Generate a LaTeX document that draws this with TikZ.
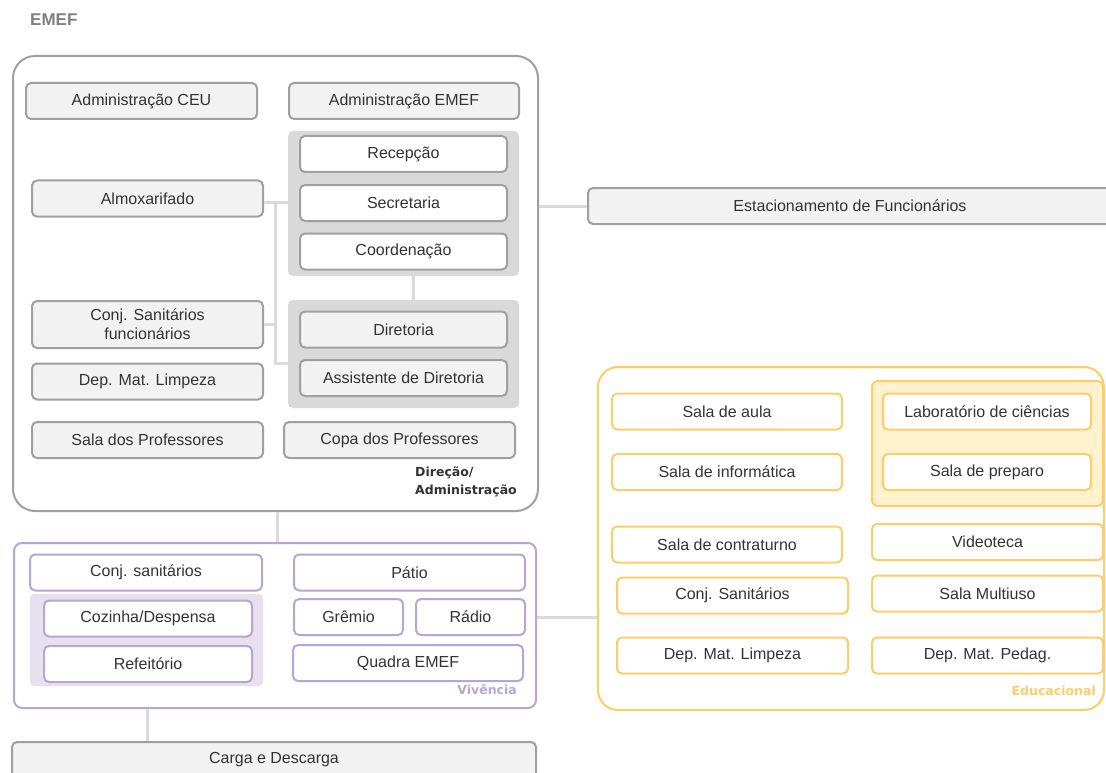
\documentclass[tikz,border=0pt]{standalone}
\usepackage{fontspec}
\setmainfont{Liberation Sans}
\newfontfamily\tagfont{DejaVu Sans}
\usepackage{tikz}
\usetikzlibrary{positioning}

\definecolor{boxline}{HTML}{A0A0A0}
\definecolor{boxfill}{HTML}{F2F2F2}
\definecolor{grpfill}{HTML}{D9D9D9}
\definecolor{linkgray}{HTML}{DADADA}
\definecolor{txt}{HTML}{333333}
\definecolor{viv}{HTML}{B4A7D6}
\definecolor{vivfill}{HTML}{E6E0EF}
\definecolor{edu}{HTML}{FFCC66}
\definecolor{edufill}{HTML}{FFF2CC}

\tikzset{
  room/.style={draw=boxline, fill=boxfill, line width=2pt, rounded corners=5pt,
    minimum height=36pt, inner sep=0pt, text=txt, align=center,
    font=\fontsize{16}{19}\selectfont},
  whiteroom/.style={room, fill=white},
  vivroom/.style={room, draw=viv, fill=white},
  eduroom/.style={room, draw=edu, fill=white},
  group/.style={fill=grpfill, rounded corners=5pt, inner sep=0pt},
  area/.style={draw=boxline, fill=white, line width=2pt, inner sep=0pt},
  tag/.style={font=\tagfont\bfseries\fontsize{12.5}{17.5}\selectfont, align=left, inner sep=0pt},
  link/.style={draw=linkgray, line width=3pt}
}

\begin{document}
\begin{tikzpicture}[x=1pt, y=-1pt]
\useasboundingbox (0,0) rectangle (1106,773);
\clip (0,0) rectangle (1106,773);
\fill[white] (0,0) rectangle (1106,773);

\node[anchor=west, text=black!50, inner sep=0pt, font=\bfseries\fontsize{17}{20}\selectfont] (emef) at (30,20) {EMEF};

% Direcao / Administracao
\node[area, rounded corners=22pt, minimum width=525pt, minimum height=455pt] (dirbox) at (275.5,283.5) {};
\node[room, minimum width=231pt] (admceu) at (141.5,101) {Administração CEU};
\node[room, minimum width=230pt] (admemef) at (404,101) {Administração EMEF};
\node[group, minimum width=231pt, minimum height=145pt] (grp1) at (403.5,203.5) {};
\node[whiteroom, minimum width=207pt] (recep) at (403.5,154) {Recepção};
\node[whiteroom, minimum width=207pt] (secr) at (403.5,203) {Secretaria};
\node[whiteroom, minimum width=207pt] (coord) at (403.5,251.5) {Coordenação};
\node[group, minimum width=231pt, minimum height=108pt] (grp2) at (403.5,354) {};
\node[room, minimum width=207pt] (diret) at (403.5,329.5) {Diretoria};
\node[room, minimum width=207pt] (assist) at (403.5,378) {Assistente de Diretoria};
\node[room, minimum width=231pt] (almox) at (147.5,198.5) {Almoxarifado};
\node[room, minimum width=231pt, minimum height=47pt] (sanf) at (147.5,324.5) {Conj. Sanitários\\funcionários};
\node[room, minimum width=231pt] (deplimp) at (147.5,381.5) {Dep. Mat. Limpeza};
\node[room, minimum width=231pt] (salaprof) at (147.5,440) {Sala dos Professores};
\node[room, minimum width=231pt] (copa) at (399.5,440) {Copa dos Professores};
\node[tag, anchor=east, text=txt] (dirtag) at (517,482) {Direção/\\Administração};

% Estacionamento
\node[room, minimum width=524pt] (estac) at (850,206) {Estacionamento de Funcionários};

% Vivencia
\node[area, draw=viv, rounded corners=8pt, minimum width=522pt, minimum height=165pt] (vivbox) at (275,625.5) {};
\node[vivroom, minimum width=232pt] (consan) at (146,572.5) {Conj. sanitários};
\node[group, fill=vivfill, rounded corners=4pt, minimum width=233pt, minimum height=92pt] (vivgrp) at (146.5,640) {};
\node[vivroom, minimum width=208pt] (cozinha) at (148,618.5) {Cozinha/Despensa};
\node[vivroom, minimum width=208pt] (refeit) at (148,664) {Refeitório};
\node[vivroom, minimum width=231pt] (patio) at (409.5,572.5) {Pátio};
\node[vivroom, minimum width=109pt] (gremio) at (348.5,617) {Grêmio};
\node[vivroom, minimum width=109pt] (radio) at (470.5,617) {Rádio};
\node[vivroom, minimum width=230pt] (quadra) at (408,663) {Quadra EMEF};
\node[tag, anchor=east, text=viv] (vivtag) at (517,690) {Vivência};

% Carga e Descarga
\node[room, minimum width=524pt] (carga) at (274,760) {Carga e Descarga};

% Educacional
\node[area, draw=edu, rounded corners=20pt, minimum width=506pt, minimum height=343pt] (edubox) at (851,538.5) {};
\node[eduroom, minimum width=230pt] (aula) at (727,411.5) {Sala de aula};
\node[eduroom, minimum width=230pt] (info) at (727,472) {Sala de informática};
\node[group, draw=edu, line width=2pt, fill=edufill, rounded corners=6pt, minimum width=231pt, minimum height=125pt] (edugrp) at (987.5,443.5) {};
\node[eduroom, minimum width=208pt] (lab) at (987,411.5) {Laboratório de ciências};
\node[eduroom, minimum width=208pt] (prep) at (987,472) {Sala de preparo};
\node[eduroom, minimum width=230pt] (contra) at (727,544.5) {Sala de contraturno};
\node[eduroom, minimum width=231pt] (video) at (987.5,542) {Videoteca};
\node[eduroom, minimum width=231pt] (consan2) at (732.5,595.5) {Conj. Sanitários};
\node[eduroom, minimum width=231pt] (multi) at (987.5,593.5) {Sala Multiuso};
\node[eduroom, minimum width=231pt] (deplimp2) at (732.5,655.5) {Dep. Mat. Limpeza};
\node[eduroom, minimum width=231pt] (pedag) at (987.5,655.5) {Dep. Mat. Pedag.};
\node[tag, anchor=east, text=edu] (edutag) at (1096,691) {Educacional};

% connections
\coordinate (jtop) at (275,203);
\coordinate (jbot) at (275,363);
\draw[link] ([yshift=-4pt]almox.east) -- ([yshift=-4pt]almox.east -| grp1.west);
\draw[link] (jtop) -- (jbot) -- (jbot -| grp2.west);
\draw[link] (sanf.east) -- (sanf.east -| jtop);
\draw[link] ([xshift=10pt]grp1.south) -- ([xshift=10pt]grp2.north);
\draw[link] (estac.west -| dirbox.east) -- (estac.west);
\draw[link] ([xshift=2pt]dirbox.south) -- ([xshift=2pt]dirbox.south |- vivbox.north);
\draw[link] ([yshift=8pt]vivbox.east) -- ([yshift=8pt]vivbox.east -| edubox.west);
\draw[link] ([xshift=-128pt]vivbox.south) -- ([xshift=-128pt]vivbox.south |- carga.north);
\end{tikzpicture}
\end{document}
